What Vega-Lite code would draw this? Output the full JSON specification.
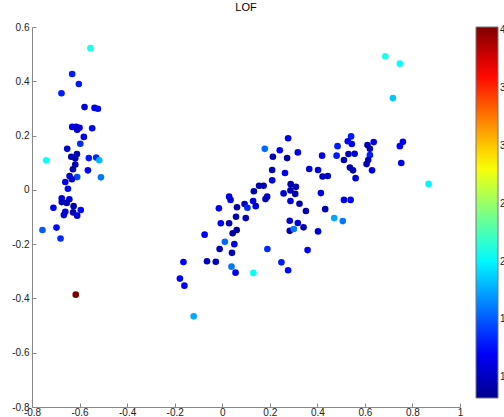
{
  "$schema": "https://vega.github.io/schema/vega-lite/v6.json",
  "autosize": {"type": "none"},
  "padding": {"left": 32, "top": 27, "right": 44, "bottom": 10},
  "width": 428,
  "height": 380,
  "background": "white",
  "title": {"text": "LOF", "fontSize": 11, "fontWeight": "normal", "font": "Liberation Sans", "color": "#000", "frame": "group", "offset": 9, "anchor": "middle"},
  "config": {"view": {"stroke": null}, "font": "Liberation Sans"},
  "data": {"values": [
    {"x": -0.554, "y": 0.522, "lof": 2.1},
    {"x": -0.631, "y": 0.427, "lof": 1.3},
    {"x": -0.603, "y": 0.390, "lof": 1.3},
    {"x": -0.676, "y": 0.356, "lof": 1.3},
    {"x": -0.579, "y": 0.305, "lof": 1.1},
    {"x": -0.537, "y": 0.302, "lof": 1.15},
    {"x": -0.523, "y": 0.299, "lof": 1.2},
    {"x": -0.631, "y": 0.232, "lof": 1.15},
    {"x": -0.614, "y": 0.232, "lof": 1.1},
    {"x": -0.600, "y": 0.229, "lof": 1.1},
    {"x": -0.610, "y": 0.221, "lof": 1.0},
    {"x": -0.547, "y": 0.227, "lof": 1.25},
    {"x": -0.582, "y": 0.195, "lof": 1.15},
    {"x": -0.597, "y": 0.170, "lof": 1.35},
    {"x": -0.652, "y": 0.151, "lof": 1.05},
    {"x": -0.611, "y": 0.132, "lof": 0.95},
    {"x": -0.635, "y": 0.122, "lof": 0.95},
    {"x": -0.618, "y": 0.116, "lof": 0.95},
    {"x": -0.561, "y": 0.117, "lof": 1.3},
    {"x": -0.530, "y": 0.119, "lof": 1.35},
    {"x": -0.517, "y": 0.109, "lof": 1.8},
    {"x": -0.740, "y": 0.109, "lof": 2.05},
    {"x": -0.618, "y": 0.093, "lof": 0.95},
    {"x": -0.628, "y": 0.076, "lof": 0.95},
    {"x": -0.565, "y": 0.072, "lof": 1.2},
    {"x": -0.610, "y": 0.047, "lof": 1.45},
    {"x": -0.642, "y": 0.051, "lof": 1.05},
    {"x": -0.632, "y": 0.039, "lof": 1.05},
    {"x": -0.510, "y": 0.046, "lof": 1.6},
    {"x": -0.660, "y": 0.029, "lof": 1.15},
    {"x": -0.649, "y": 0.004, "lof": 1.2},
    {"x": -0.675, "y": -0.031, "lof": 1.1},
    {"x": -0.643, "y": -0.035, "lof": 1.1},
    {"x": -0.675, "y": -0.045, "lof": 1.0},
    {"x": -0.654, "y": -0.048, "lof": 0.95},
    {"x": -0.625, "y": -0.060, "lof": 0.95},
    {"x": -0.710, "y": -0.066, "lof": 1.2},
    {"x": -0.660, "y": -0.081, "lof": 1.1},
    {"x": -0.666, "y": -0.093, "lof": 1.1},
    {"x": -0.627, "y": -0.083, "lof": 0.95},
    {"x": -0.610, "y": -0.095, "lof": 1.1},
    {"x": -0.595, "y": -0.074, "lof": 1.25},
    {"x": -0.756, "y": -0.148, "lof": 1.5},
    {"x": -0.697, "y": -0.139, "lof": 1.25},
    {"x": -0.680, "y": -0.179, "lof": 1.35},
    {"x": -0.616, "y": -0.386, "lof": 4.03},
    {"x": 0.277, "y": 0.190, "lof": 1.2},
    {"x": 0.179, "y": 0.151, "lof": 1.55},
    {"x": 0.242, "y": 0.146, "lof": 1.2},
    {"x": 0.318, "y": 0.138, "lof": 1.15},
    {"x": 0.213, "y": 0.122, "lof": 0.95},
    {"x": 0.273, "y": 0.117, "lof": 0.9},
    {"x": 0.420, "y": 0.126, "lof": 1.15},
    {"x": 0.210, "y": 0.073, "lof": 0.95},
    {"x": 0.264, "y": 0.062, "lof": 1.15},
    {"x": 0.366, "y": 0.077, "lof": 1.1},
    {"x": 0.403, "y": 0.073, "lof": 1.1},
    {"x": 0.422, "y": 0.049, "lof": 1.0},
    {"x": 0.444, "y": 0.051, "lof": 1.0},
    {"x": 0.210, "y": 0.035, "lof": 1.1},
    {"x": 0.155, "y": 0.015, "lof": 0.95},
    {"x": 0.174, "y": 0.015, "lof": 0.95},
    {"x": 0.133, "y": -0.005, "lof": 0.95},
    {"x": 0.288, "y": 0.021, "lof": 0.95},
    {"x": 0.310, "y": 0.011, "lof": 0.95},
    {"x": 0.287, "y": -0.002, "lof": 0.95},
    {"x": 0.307, "y": -0.015, "lof": 0.95},
    {"x": 0.258, "y": -0.013, "lof": 1.1},
    {"x": 0.415, "y": -0.012, "lof": 1.1},
    {"x": 0.189, "y": -0.025, "lof": 1.0},
    {"x": 0.182, "y": -0.034, "lof": 1.0},
    {"x": 0.029, "y": -0.025, "lof": 1.15},
    {"x": 0.035, "y": -0.037, "lof": 1.1},
    {"x": 0.130, "y": -0.041, "lof": 1.1},
    {"x": 0.094, "y": -0.052, "lof": 1.0},
    {"x": 0.141, "y": -0.060, "lof": 1.1},
    {"x": 0.106, "y": -0.066, "lof": 1.35},
    {"x": 0.287, "y": -0.041, "lof": 1.1},
    {"x": 0.325, "y": -0.051, "lof": 0.95},
    {"x": 0.433, "y": -0.071, "lof": 0.95},
    {"x": 0.352, "y": -0.078, "lof": 0.95},
    {"x": -0.014, "y": -0.068, "lof": 1.2},
    {"x": 0.062, "y": -0.064, "lof": 0.9},
    {"x": 0.058, "y": -0.099, "lof": 0.9},
    {"x": 0.099, "y": -0.104, "lof": 1.0},
    {"x": -0.006, "y": -0.123, "lof": 1.2},
    {"x": 0.029, "y": -0.123, "lof": 0.95},
    {"x": 0.284, "y": -0.114, "lof": 1.05},
    {"x": 0.318, "y": -0.122, "lof": 1.1},
    {"x": 0.061, "y": -0.148, "lof": 0.9},
    {"x": 0.044, "y": -0.160, "lof": 0.9},
    {"x": 0.284, "y": -0.151, "lof": 0.95},
    {"x": 0.301, "y": -0.144, "lof": 1.6},
    {"x": 0.342, "y": -0.138, "lof": 0.95},
    {"x": 0.403, "y": -0.153, "lof": 1.1},
    {"x": -0.074, "y": -0.165, "lof": 1.2},
    {"x": 0.011, "y": -0.191, "lof": 1.55},
    {"x": 0.051, "y": -0.200, "lof": 1.15},
    {"x": -0.011, "y": -0.218, "lof": 0.95},
    {"x": 0.041, "y": -0.232, "lof": 1.0},
    {"x": 0.190, "y": -0.218, "lof": 1.35},
    {"x": 0.359, "y": -0.222, "lof": 1.2},
    {"x": -0.163, "y": -0.266, "lof": 1.2},
    {"x": -0.064, "y": -0.263, "lof": 1.0},
    {"x": -0.027, "y": -0.265, "lof": 1.0},
    {"x": 0.039, "y": -0.283, "lof": 1.6},
    {"x": 0.249, "y": -0.267, "lof": 1.3},
    {"x": 0.056, "y": -0.305, "lof": 1.2},
    {"x": 0.131, "y": -0.306, "lof": 2.05},
    {"x": 0.277, "y": -0.296, "lof": 1.25},
    {"x": -0.178, "y": -0.327, "lof": 1.2},
    {"x": -0.159, "y": -0.353, "lof": 1.2},
    {"x": -0.120, "y": -0.466, "lof": 1.75},
    {"x": 0.542, "y": 0.197, "lof": 1.3},
    {"x": 0.485, "y": 0.161, "lof": 1.3},
    {"x": 0.528, "y": 0.179, "lof": 1.15},
    {"x": 0.545, "y": 0.169, "lof": 1.15},
    {"x": 0.611, "y": 0.165, "lof": 0.95},
    {"x": 0.637, "y": 0.176, "lof": 1.15},
    {"x": 0.621, "y": 0.151, "lof": 0.95},
    {"x": 0.481, "y": 0.126, "lof": 1.3},
    {"x": 0.531, "y": 0.132, "lof": 0.95},
    {"x": 0.557, "y": 0.133, "lof": 1.1},
    {"x": 0.512, "y": 0.110, "lof": 0.95},
    {"x": 0.621, "y": 0.128, "lof": 1.3},
    {"x": 0.614, "y": 0.110, "lof": 0.95},
    {"x": 0.607, "y": 0.095, "lof": 0.95},
    {"x": 0.537, "y": 0.082, "lof": 0.95},
    {"x": 0.550, "y": 0.072, "lof": 0.95},
    {"x": 0.630, "y": 0.072, "lof": 1.15},
    {"x": 0.561, "y": 0.043, "lof": 1.1},
    {"x": 0.512, "y": -0.037, "lof": 1.15},
    {"x": 0.540, "y": -0.037, "lof": 1.15},
    {"x": 0.471, "y": -0.104, "lof": 1.75},
    {"x": 0.507, "y": -0.115, "lof": 1.6},
    {"x": 0.760, "y": 0.177, "lof": 1.2},
    {"x": 0.747, "y": 0.161, "lof": 1.2},
    {"x": 0.753, "y": 0.099, "lof": 1.15},
    {"x": 0.686, "y": 0.492, "lof": 2.1},
    {"x": 0.747, "y": 0.465, "lof": 2.05},
    {"x": 0.718, "y": 0.338, "lof": 1.85},
    {"x": 0.868, "y": 0.022, "lof": 2.0}
  ]},
  "mark": {"type": "circle", "size": 44, "opacity": 1},
  "encoding": {
    "x": {
      "field": "x", "type": "quantitative",
      "scale": {"domain": [-0.8, 1], "nice": false, "zero": false},
      "axis": {
        "title": null, "grid": false,
        "values": [-0.8, -0.6, -0.4, -0.2, 0, 0.2, 0.4, 0.6, 0.8, 1],
        "labelExpr": "'' + round(datum.value * 10) / 10",
        "tickSize": -4, "labelPadding": 4,
        "domainColor": "#888", "tickColor": "#888",
        "labelColor": "#222", "labelFontSize": 10, "labelFont": "Liberation Sans",
        "labelFlush": false, "labelOverlap": false
      }
    },
    "y": {
      "field": "y", "type": "quantitative",
      "scale": {"domain": [-0.8, 0.6], "nice": false, "zero": false},
      "axis": {
        "title": null, "grid": false,
        "values": [-0.8, -0.6, -0.4, -0.2, 0, 0.2, 0.4, 0.6],
        "labelExpr": "'' + round(datum.value * 10) / 10",
        "tickSize": -4, "labelPadding": 7,
        "domainColor": "#888", "tickColor": "#888",
        "labelColor": "#222", "labelFontSize": 10, "labelFont": "Liberation Sans",
        "labelFlush": false, "labelOverlap": false
      }
    },
    "color": {
      "field": "lof", "type": "quantitative",
      "scale": {
        "type": "linear", "domain": [0.82, 4.03], "nice": false, "zero": false, "interpolate": "rgb",
        "range": ["#00008F", "#0000FF", "#0080FF", "#00FFFF", "#80FF80", "#FFFF00", "#FF8000", "#FF0000", "#800000"]
      },
      "legend": {
        "orient": "none", "legendX": 444, "legendY": 0, "direction": "vertical",
        "title": null, "padding": 0,
        "gradientLength": 371, "gradientThickness": 22,
        "gradientStrokeColor": "#777", "gradientStrokeWidth": 1,
        "values": [1, 1.5, 2, 2.5, 3, 3.5, 4],
        "labelOffset": 2, "labelFontSize": 10, "labelColor": "#222", "labelFont": "Liberation Sans",
        "labelOverlap": false
      }
    }
  }
}
